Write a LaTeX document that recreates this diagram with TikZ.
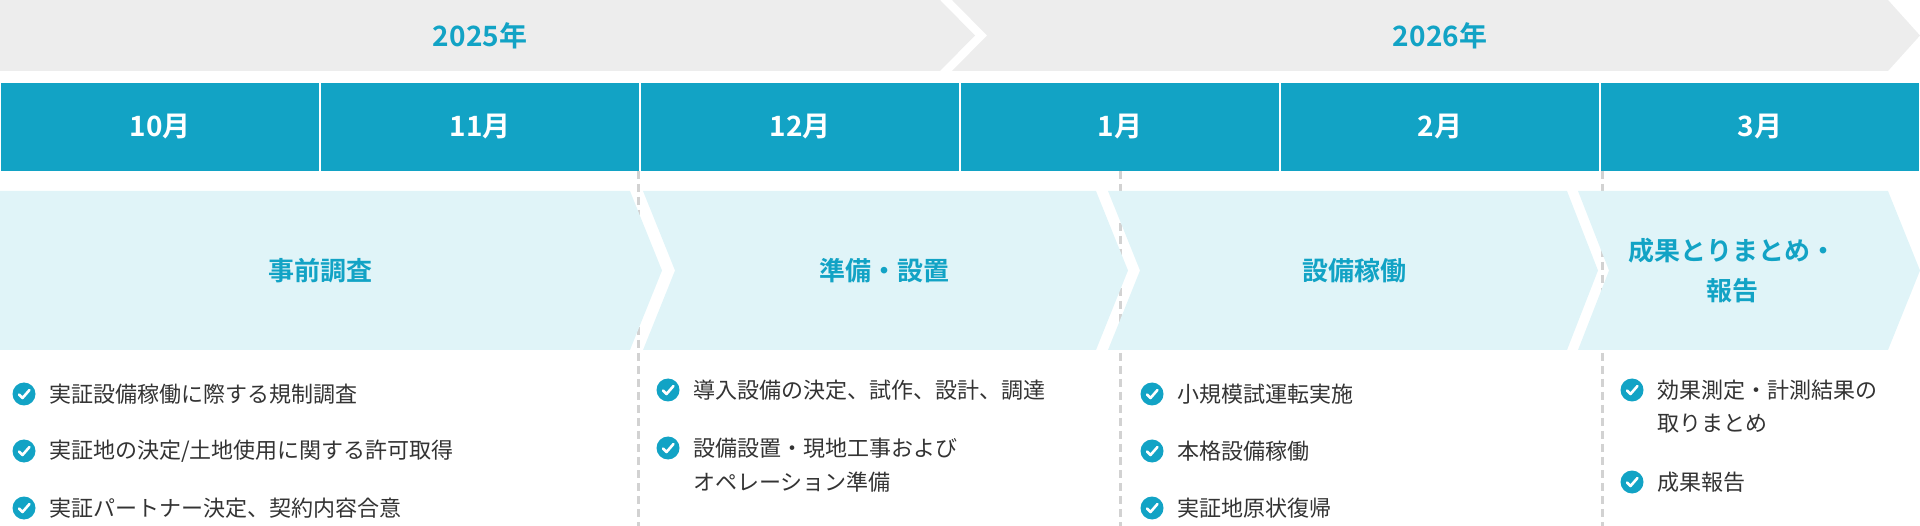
\documentclass[tikz,border=0pt]{standalone}
\usepackage{fontspec}
\setmainfont{Noto Sans CJK JP}[BoldFont={Noto Sans CJK JP Bold}]
\definecolor{teal}{HTML}{12A3C5}
\definecolor{pale}{HTML}{E0F4F8}
\definecolor{yeargray}{HTML}{EDEDED}
\definecolor{ink}{HTML}{333333}
\definecolor{dashgray}{HTML}{D2D2D2}
\tikzset{
  monthlabel/.style={text=white, font=\fontsize{28}{32}\selectfont\bfseries},
  yearlabel/.style={text=teal, font=\fontsize{28}{32}\selectfont\bfseries},
  phaselabel/.style={text=teal, align=center, font=\fontsize{26}{40}\selectfont\bfseries},
  itemtext/.style={anchor=west, text=ink, align=left, inner sep=0pt, font=\fontsize{22}{34}\selectfont},
  divider/.style={dashgray, line width=3pt, dash pattern=on 8pt off 5pt}
}
\newcommand{\tick}[3]{%
  \fill[teal] (#1,#2) circle (11.5);
  \draw[white, line width=2.6pt, line cap=round, line join=round] (#1-5,#2+0.5) -- (#1-1.5,#2+4) -- (#1+5.5,#2-4);
  \node[itemtext] at (#1+25,#2) {#3};}
\begin{document}
\begin{tikzpicture}[x=1pt,y=-1pt]
\useasboundingbox (0,0) rectangle (1920,526);
% year bar
\fill[yeargray] (0,0) -- (940,0) -- (975,35.5) -- (940,71) -- (0,71) -- cycle;
\fill[yeargray] (952,0) -- (1888,0) -- (1920,35.5) -- (1888,71) -- (952,71) -- (987,35.5) -- cycle;
\node[yearlabel] (y2025) at (480,35.5) {2025年};
\node[yearlabel] (y2026) at (1440,35.5) {2026年};
% months
\foreach \m [count=\i from 0] in {10月,11月,12月,1月,2月,3月}{
  \fill[teal] (\i*320+1,83) rectangle (\i*320+319,171);
  \node[monthlabel] (m\i) at (\i*320+160,127) {\m};
}
% dividers
\foreach \x in {638,1120,1602}
  \draw[divider] (\x,171) -- (\x,526);
% phases
\fill[pale] (0,191) -- (630,191) -- (662,270.5) -- (630,350) -- (0,350) -- cycle;
\fill[pale] (643,191) -- (1096,191) -- (1128,270.5) -- (1096,350) -- (643,350) -- (675,270.5) -- cycle;
\fill[pale] (1108,191) -- (1567,191) -- (1598,270.5) -- (1567,350) -- (1108,350) -- (1140,270.5) -- cycle;
\fill[pale] (1578,191) -- (1888,191) -- (1920,270.5) -- (1888,350) -- (1578,350) -- (1609,270.5) -- cycle;
\node[phaselabel] (p1) at (320,270.5) {事前調査};
\node[phaselabel] (p2) at (884,270.5) {準備・設置};
\node[phaselabel] (p3) at (1354,270.5) {設備稼働};
\node[phaselabel] (p4) at (1732,270.5) {成果とりまとめ・\\報告};
% items
\tick{24}{394}{実証設備稼働に際する規制調査}
\tick{24}{451}{実証地の決定/土地使用に関する許可取得}
\tick{24}{508}{実証パートナー決定、契約内容合意}
\tick{668}{390}{導入設備の決定、試作、設計、調達}
\tick{668}{448}{設備設置・現地工事および}
\node[itemtext] (i2b) at (693,482) {オペレーション準備};
\tick{1152}{394}{小規模試運転実施}
\tick{1152}{451}{本格設備稼働}
\tick{1152}{508}{実証地原状復帰}
\tick{1632}{390}{効果測定・計測結果の}
\node[itemtext] (i4b) at (1657,424) {取りまとめ};
\tick{1632}{482}{成果報告}
\end{tikzpicture}
\end{document}
